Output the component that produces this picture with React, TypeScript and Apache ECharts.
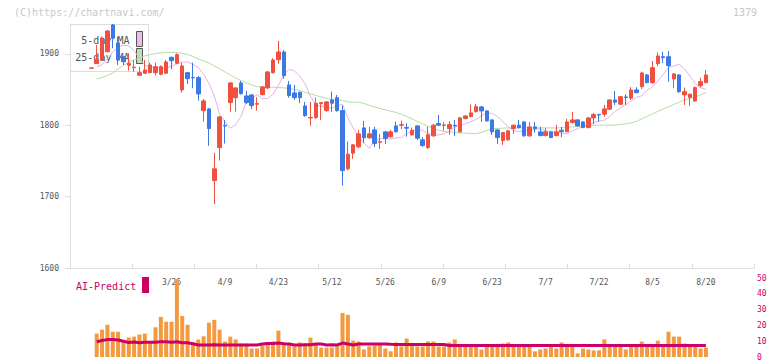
import React, { useEffect, useRef } from 'react';
import * as echarts from 'echarts';

const dates = [
  '3/4','3/5','3/6','3/7','3/10','3/11','3/12','3/13','3/14','3/17','3/18','3/19','3/21','3/24','3/25',
  '3/26','3/27','3/28','3/31','4/1','4/2','4/3','4/4','4/7','4/8','4/9','4/10','4/11','4/14','4/15',
  '4/16','4/17','4/18','4/21','4/22','4/23','4/24','4/25','4/28','4/30','5/1','5/2','5/7','5/8','5/9',
  '5/12','5/13','5/14','5/15','5/16','5/19','5/20','5/21','5/22','5/23','5/26','5/27','5/28','5/29','5/30',
  '6/2','6/3','6/4','6/5','6/6','6/9','6/10','6/11','6/12','6/13','6/16','6/17','6/18','6/19','6/20',
  '6/23','6/24','6/25','6/26','6/27','6/30','7/1','7/2','7/3','7/4','7/7','7/8','7/9','7/10','7/11',
  '7/14','7/15','7/16','7/17','7/18','7/22','7/23','7/24','7/25','7/28','7/29','7/30','7/31','8/1','8/4',
  '8/5','8/6','8/7','8/8','8/12','8/13','8/14','8/15','8/18','8/19','8/20'
];

const tickLabels = ['3/26','4/9','4/23','5/12','5/26','6/9','6/23','7/7','7/22','8/5','8/20'];
const priceTicks = [1600, 1700, 1800, 1900];

const opens = [
  1880,1886.4,1891.6,1903.2,1940.6,1915.4,1896.2,1884.2,1880.8,1870.2,1873,1873.8,1873.8,1871.6,1873,
  1895.4,1887,1849.6,1873.8,1867.2,1866.8,1820.6,1823,1722.6,1768.8,1800,1831.8,1838.8,1859.4,1841.2,
  1842.6,1829.5,1843,1852.4,1873.8,1892,1902.8,1856.6,1845.4,1846.4,1827.2,1810.3,1810.8,1830.4,1820.6,
  1835.6,1838.8,1820.6,1739,1761,1769.8,1796.4,1782.4,1793.6,1776.3,1790.8,1783.8,1799.2,1800.2,1797,
  1786.6,1799.2,1779.6,1768.8,1785.2,1802.4,1799.8,1795.4,1800,1790.8,1809.4,1812.2,1819.2,1825.8,1820.2,
  1807.6,1793.6,1778.6,1779.6,1795.4,1800.2,1804.8,1785.2,1797.8,1790.8,1785.6,1790.8,1785.6,1793.2,1791.2,
  1803.8,1807.6,1804.8,1796.8,1810.4,1815.2,1815.6,1822.6,1835.6,1829.6,1839.8,1838,1849.6,1854.2,1870.6,
  1859.8,1886.4,1896.2,1896.2,1865,1870.6,1842.6,1839.1,1834.2,1855.6,1859.8
];
const closes = [
  1880.5,1892.6,1922.4,1932.2,1922,1891.6,1889.2,1887,1881.4,1873.8,1877.6,1884.6,1882.2,1882.2,1888.8,
  1890.6,1899,1883.2,1865.4,1866.5,1844,1834.2,1795.4,1739,1811.8,1799,1859.4,1852.4,1844.4,1831.8,
  1827.6,1830.5,1853.8,1874.8,1891.6,1902.8,1869.6,1841.6,1838.8,1838.8,1813.6,1811,1831,1831.8,1832.8,
  1831,1820.6,1736.6,1759.6,1772.6,1788,1782.4,1788,1774.4,1777,1781.4,1790.8,1790.8,1801,1796,
  1793.2,1782,1771.6,1786.6,1800.2,1800.2,1800.6,1801,1799.2,1810.4,1813.2,1817.4,1826.2,1820.2,1806.2,
  1790.8,1782.8,1789.8,1792.2,1800.2,1796.8,1785.2,1797.8,1795.4,1785.6,1790.8,1782.8,1790.8,1791.2,1804.8,
  1807.6,1799.2,1796.8,1810.4,1815,1814.4,1823,1835.6,1832.4,1840.2,1839,1849.6,1845.8,1873.4,1859.8,
  1880.8,1897.2,1894.8,1883.6,1872,1847.2,1847.2,1843.6,1852.8,1861.2,1870.6
];
const lows = [
  1879.5,1886,1890.2,1902,1908,1884.6,1884.6,1876.6,1875.2,1869.5,1872,1873,1870.2,1870,1872,
  1878.6,1886,1845.8,1858,1852,1834.6,1805.2,1771.2,1689.6,1750.6,1774.4,1819.2,1819.2,1843,1830,
  1822.6,1820.6,1842,1851,1872.4,1886.4,1865.4,1838.8,1835.6,1831,1812,1799.6,1809,1807.6,1819,
  1818.8,1819,1715.6,1736.6,1753,1768,1775,1781,1769.4,1767,1774,1782.5,1790,1794.6,1784.2,
  1785.5,1779.2,1770,1766.6,1784,1799,1792.6,1786.6,1785.2,1789.5,1808.5,1811,1818,1805.2,1805,
  1786.6,1774,1772.6,1778.5,1788,1795.5,1784.2,1784,1789.8,1784.5,1784.5,1782,1784.5,1783.4,1790,
  1802.5,1798,1796,1795.8,1801.6,1805.2,1812,1821.5,1828.6,1828.5,1828.6,1835.6,1845,1851,1859,
  1858,1882.8,1887.4,1861.2,1852,1845.4,1828.6,1827.2,1833,1852.8,1859
];
const highs = [
  1881,1912.6,1924.5,1933.6,1942,1924.2,1897,1901,1891.6,1882.2,1891.6,1887.8,1887.8,1884,1891.6,
  1896,1901,1887.8,1875,1887.8,1869.2,1837,1824,1761.4,1813.2,1807.6,1860.5,1853.4,1862.2,1848.2,
  1843.5,1839.4,1855,1876,1894,1918.2,1905.6,1862.2,1856.6,1847,1832.8,1832.8,1838.8,1832.5,1834,
  1847.2,1842.6,1827.6,1777.2,1774,1793.6,1806.2,1797.8,1798.2,1788,1791.5,1793.6,1805.2,1806.6,1803,
  1796.8,1800,1783.4,1798.2,1801.6,1814.6,1804.4,1805.8,1807.2,1811.8,1814,1829,1830,1827,1821,
  1808.5,1794.5,1790.5,1793.6,1801,1807.6,1805.5,1804.8,1804.8,1797.8,1796.4,1791.5,1800.6,1797.8,1809,
  1818.8,1808.5,1805.5,1811.4,1817.4,1815.5,1828.6,1836.5,1848.2,1841,1843.6,1853.4,1853.4,1875.2,1872,
  1890.2,1901.8,1903.2,1904.2,1873,1871.5,1853,1844.5,1854.5,1866.8,1877.6
];

const ma5 = [
  null,1882,1885,1893,1903,1909.9,1912.2,1911.5,1904.4,1894.2,1884.6,1881.8,1880.9,1879.9,1880.1,
  1883.1,1885.7,1888.6,1888.8,1885.4,1880.9,1871.6,1858.7,1841.1,1815.8,1804.9,1795.9,1800.9,1812.3,1833.4,
  1837.4,1843.1,1837.3,1837.6,1843.7,1855.7,1870.7,1878.5,1876.1,1868.9,1858.3,1840.5,1828.8,1826.6,1825.2,
  1824.0,1827.5,1829.4,1810.6,1796.1,1784.1,1775.5,1767.8,1778.1,1781.1,1782.0,1780.6,1782.3,1782.9,1788.2,
  1792.0,1794.4,1792.6,1788.8,1785.9,1786.7,1788.1,1791.8,1797.7,1800.2,1802.3,1804.9,1808.2,1813.3,1817.5,
  1816.6,1812.2,1805.2,1798.0,1792.4,1791.2,1792.4,1792.8,1794.4,1795.1,1792.2,1791.0,1790.5,1789.1,1788.2,
  1792.1,1795.4,1798.7,1799.9,1803.8,1805.8,1807.2,1811.9,1819.7,1824.1,1829.1,1834.0,1839.4,1841.4,1849.6,
  1853.5,1861.9,1871.4,1881.2,1883.2,1885.7,1879.0,1869.0,1858.7,1852.6,1850.4
];
const ma25 = [
  null,1865.0,1867.1,1869.9,1873.4,1879.0,1883.9,1888.1,1891.6,1894.4,1897.2,1899.0,1900.7,1901.4,1902.1,
  1902.4,1902.1,1901.0,1899.3,1896.5,1893.0,1890.2,1887.4,1883.2,1879.0,1874.8,1870.6,1866.4,1862.9,1859.4,
  1856.6,1854.2,1853.4,1853.4,1853.4,1853.1,1852.4,1851.7,1850.3,1848.9,1846.1,1844.0,1841.9,1839.8,1837.7,
  1836.3,1835.6,1834.6,1832.8,1832.4,1832.4,1830.7,1827.9,1825.8,1823.7,1821.6,1819.8,1818.1,1815.3,1812.5,
  1809.0,1805.5,1802.0,1798.5,1795.7,1792.9,1791.5,1790.8,1790.1,1789.4,1789.0,1788.7,1788.4,1790.1,1792.9,
  1795.0,1795.7,1796.0,1796.4,1796.4,1796.4,1796.4,1796.4,1796.4,1796.4,1796.4,1796.4,1796.4,1796.4,1797.1,
  1797.8,1798.5,1799.2,1799.6,1800.2,1800.2,1800.2,1800.2,1800.2,1801.3,1802.0,1803.4,1805.5,1809.0,1812.5,
  1816.0,1819.5,1823.0,1825.8,1829.3,1832.1,1835.6,1837.7,1839.8,1842.6,1846.1
];

const volumes = [
  null,14.8,17.3,20.4,16.0,16.0,10.4,12.3,12.9,14.2,14.8,9.0,18.8,25.4,22.3,
  22.3,49.2,26.0,20.4,9.2,11.1,13.1,21.7,23.5,17.3,9.8,12.9,11.1,8.5,8.5,
  5.4,5.4,7.3,8.5,9.8,16.7,9.2,8.5,6.7,9.2,8.5,12.3,8.5,6.0,6.0,
  6.0,6.7,27.9,26.7,10.4,9.8,4.8,6.7,7.3,7.9,5.4,3.6,9.2,6.7,11.7,
  8.5,6.7,6.7,9.8,9.8,6.7,6.7,9.2,11.1,6.7,6.7,6.7,6.7,4.8,6.7,
  6.7,6.7,8.5,9.2,6.7,6.7,6.7,6.7,3.6,4.8,5.4,6.7,5.4,9.2,6.7,
  6.7,2.3,5.4,4.8,4.2,4.2,11.1,6.7,6.7,6.7,4.8,6.7,6.7,9.8,6.7,
  6.7,10.4,6.7,16.0,12.9,12.9,8.5,6.7,6.7,5.4,6.0
];
const aiPredict = [
  null,9.6,10.4,11.0,11.0,10.8,10.0,9.2,9.5,9.0,9.3,9.3,9.4,9.6,9.6,
  9.4,9.6,9.0,9.0,8.4,7.6,7.6,7.6,7.8,7.6,7.6,7.6,7.6,7.6,7.6,
  7.6,7.6,8.2,8.6,8.6,8.8,8.4,8.2,7.6,7.6,7.8,7.8,8.2,8.2,7.6,
  7.8,7.6,8.8,8.2,7.6,8.2,8.2,8.2,8.2,8.2,8.2,8.0,7.9,7.9,7.9,
  7.9,7.9,7.9,7.9,7.9,7.9,7.9,7.3,7.3,7.3,7.3,7.3,7.3,7.3,7.3,
  7.3,7.3,7.3,7.3,7.3,7.3,7.3,7.3,7.3,7.3,7.3,7.3,7.3,7.3,7.3,
  7.3,7.3,7.3,7.3,7.3,7.3,7.3,7.3,7.3,7.3,7.3,7.3,7.3,7.3,7.3,
  7.3,7.3,7.3,7.3,7.3,7.3,7.3,7.3,7.3,7.3,7.3
];

const LEAD = 4;
const TRAIL = 9;
const UP = '#ef5040';
const DOWN = '#3c78e6';
const MONO = '"DejaVu Sans Mono", monospace';

export default function App() {
  const ref = useRef<HTMLDivElement>(null);
  useEffect(() => {
    if (!ref.current) return;
    const chart = echarts.init(ref.current, null, { renderer: 'svg' });
    const pad = (arr: any[], empty: any) => [
      ...Array.from({ length: LEAD }, () => empty),
      ...arr,
      ...Array.from({ length: TRAIL }, () => empty),
    ];
    const cats = [
      ...Array.from({ length: LEAD }, (_, k) => `_a${k}`),
      ...dates,
      ...Array.from({ length: TRAIL }, (_, k) => `_b${k}`),
    ];
    const candles = pad(
      dates.map((_, i) => [opens[i], closes[i], lows[i], highs[i]]),
      ['-', '-', '-', '-']
    );
    const option: any = {
      animation: false,
      backgroundColor: '#ffffff',
      textStyle: { fontFamily: MONO },
      grid: [
        { left: 70, top: 24, width: 684, height: 244 },
        { left: 70, top: 278, width: 684, height: 80 },
      ],
      xAxis: [
        {
          type: 'category', gridIndex: 0, data: cats, boundaryGap: false,
          axisLine: { show: true, lineStyle: { color: '#dddddd', width: 1 } },
          axisTick: { show: false },
          splitLine: { show: false },
          axisLabel: {
            interval: (_idx: number, val: string) => tickLabels.includes(val),
            margin: 10, fontSize: 8, color: '#555555', fontFamily: MONO,
          },
        },
        {
          type: 'value', gridIndex: 0, min: 0, max: 11, interval: 1, position: 'bottom',
          axisLine: { show: false },
          axisTick: { show: true, inside: true, length: 4, lineStyle: { color: '#dddddd' } },
          axisLabel: { show: false },
          splitLine: { show: false },
        },
        {
          type: 'category', gridIndex: 1, data: cats, boundaryGap: false, show: false,
        },
      ],
      yAxis: [
        {
          type: 'value', gridIndex: 0, min: 1600, max: 1942, position: 'left',
          axisLine: { show: true, lineStyle: { color: '#dddddd' } },
          axisTick: { show: true, length: 5, lineStyle: { color: '#dddddd' }, customValues: priceTicks },
          axisLabel: {
            customValues: priceTicks, fontSize: 8, color: '#555555', margin: 11, fontFamily: MONO,
            formatter: (v: number) => String(v),
          },
          splitLine: { show: false },
        },
        {
          type: 'value', gridIndex: 1, min: 0, max: 50, interval: 10, position: 'right',
          axisLine: { show: false },
          axisTick: { show: false },
          axisLabel: { fontSize: 8, color: '#cc0066', margin: 3, fontFamily: MONO },
          splitLine: { show: false },
        },
      ],
      series: [
        {
          name: '5-day MA', type: 'line', xAxisIndex: 0, yAxisIndex: 0,
          data: pad(ma5, null), symbol: 'none', z: 1,
          lineStyle: { color: '#e6b0e6', width: 1 }, itemStyle: { color: '#e6b0e6' },
        },
        {
          name: '25-day MA', type: 'line', xAxisIndex: 0, yAxisIndex: 0,
          data: pad(ma25, null), symbol: 'none', z: 1,
          lineStyle: { color: '#b6dca6', width: 1 }, itemStyle: { color: '#b6dca6' },
        },
        {
          name: 'price', type: 'candlestick', xAxisIndex: 0, yAxisIndex: 0,
          data: candles, barWidth: 4, z: 3,
          itemStyle: { color: UP, color0: DOWN, borderColor: UP, borderColor0: DOWN, borderWidth: 1 },
        },
        {
          name: 'volume', type: 'bar', xAxisIndex: 2, yAxisIndex: 1,
          data: pad(volumes, null), barWidth: 4, z: 2,
          itemStyle: { color: '#f3993f' },
        },
        {
          name: 'AI-Predict', type: 'line', xAxisIndex: 2, yAxisIndex: 1,
          data: pad(aiPredict, null), symbol: 'none', z: 4,
          lineStyle: { color: '#cc0066', width: 3 }, itemStyle: { color: '#cc0066' },
        },
      ],
      graphic: [
        {
          type: 'text', x: 14, y: 12, z: 0,
          style: { text: '(C)https://chartnavi.com/', fill: '#c8c8c8', font: `10px ${MONO}`, textAlign: 'left', textVerticalAlign: 'middle' },
        },
        {
          type: 'text', x: 757, y: 12, z: 0,
          style: { text: '1379', fill: '#c8c8c8', font: `10px ${MONO}`, textAlign: 'right', textVerticalAlign: 'middle' },
        },
        {
          type: 'rect', z: 0, shape: { x: 70.5, y: 24.5, width: 78, height: 47 },
          style: { fill: 'rgba(255,255,255,0)', stroke: '#dddddd', lineWidth: 1 },
        },
        {
          type: 'text', x: 129.5, y: 40, z: 0,
          style: { text: '5-day MA', fill: '#555555', font: `10px ${MONO}`, textAlign: 'right', textVerticalAlign: 'middle' },
        },
        {
          type: 'text', x: 129.5, y: 57, z: 0,
          style: { text: '25-day MA', fill: '#555555', font: `10px ${MONO}`, textAlign: 'right', textVerticalAlign: 'middle' },
        },
        {
          type: 'rect', z: 0, shape: { x: 136.5, y: 31.5, width: 6, height: 15 },
          style: { fill: '#ebbdeb', stroke: '#555555', lineWidth: 1 },
        },
        {
          type: 'rect', z: 0, shape: { x: 136.5, y: 48.5, width: 6, height: 15 },
          style: { fill: '#bfe0b2', stroke: '#555555', lineWidth: 1 },
        },
        {
          type: 'text', x: 76, y: 286, z: 0,
          style: { text: 'AI-Predict', fill: '#cc0066', font: `10px ${MONO}`, textAlign: 'left', textVerticalAlign: 'middle' },
        },
        {
          type: 'rect', z: 0, shape: { x: 142, y: 277, width: 7, height: 16 },
          style: { fill: '#cc0066' },
        },
      ],
    };
    chart.setOption(option);
    return () => chart.dispose();
  }, []);
  return (
    <div
      ref={ref}
      style={{ position: 'fixed', left: 0, top: 0, width: 772, height: 361, background: '#ffffff' }}
    />
  );
}
